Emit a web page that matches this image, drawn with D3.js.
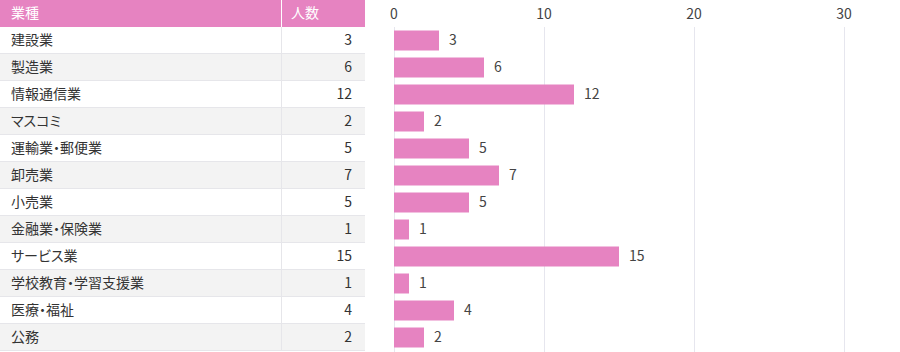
<!DOCTYPE html>
<html lang="ja">
<head>
<meta charset="UTF-8" />
<title>業種別人数</title>
<script src="https://cdn.jsdelivr.net/npm/d3@7/dist/d3.min.js"></script>
<style>
  body { margin: 0; background: #fff; }
  text { font-family: "Noto Sans CJK JP", "Noto Sans", sans-serif; font-feature-settings: "palt"; }
</style>
</head>
<body>
<script>
  const headers = ["業種", "人数"];
  const categories = ["建設業", "製造業", "情報通信業", "マスコミ", "運輸業・郵便業", "卸売業", "小売業", "金融業・保険業", "サービス業", "学校教育・学習支援業", "医療・福祉", "公務"];
  const counts = [3, 6, 12, 2, 5, 7, 5, 1, 15, 1, 4, 2];
  const ticks = [0, 10, 20, 30];

  const width = 900;
  const height = 352;
  const rowH = 27;
  const tableW = 365;
  const colX = 281;
  const pink = "#e683c1";
  const fs = 14;

  const svg = d3.select("body").append("svg")
    .attr("width", width)
    .attr("height", height);

  // 表
  const y = d3.scaleBand()
    .domain(categories)
    .range([rowH, rowH * (categories.length + 1)]);

  svg.append("rect")
    .attr("x", 0).attr("y", 0)
    .attr("width", tableW).attr("height", rowH)
    .attr("fill", pink);
  svg.append("line")
    .attr("x1", colX + 0.5).attr("x2", colX + 0.5)
    .attr("y1", 0).attr("y2", rowH)
    .attr("stroke", "#fff");
  svg.append("text")
    .attr("x", 11).attr("y", rowH / 2).attr("dy", "0.35em")
    .attr("fill", "#fff").attr("font-size", fs)
    .text(headers[0]);
  svg.append("text")
    .attr("x", colX + 10).attr("y", rowH / 2).attr("dy", "0.35em")
    .attr("fill", "#fff").attr("font-size", fs)
    .text(headers[1]);

  const rows = svg.append("g").selectAll("g")
    .data(categories)
    .join("g")
    .attr("transform", d => `translate(0,${y(d)})`);

  rows.append("rect")
    .attr("width", tableW).attr("height", rowH)
    .attr("fill", (d, i) => i % 2 ? "#f3f3f3" : "#fff");
  rows.append("line")
    .attr("x1", 0).attr("x2", tableW)
    .attr("y1", rowH - 0.5).attr("y2", rowH - 0.5)
    .attr("stroke", "#e6e6ea");
  rows.append("line")
    .attr("x1", colX + 0.5).attr("x2", colX + 0.5)
    .attr("y1", 0).attr("y2", rowH)
    .attr("stroke", "#e6e6ea");
  rows.append("text")
    .attr("x", 11).attr("y", rowH / 2).attr("dy", "0.35em")
    .attr("fill", "#333").attr("font-size", fs)
    .text(d => d);
  rows.append("text")
    .attr("x", 352).attr("y", rowH / 2).attr("dy", "0.35em")
    .attr("text-anchor", "end")
    .attr("fill", "#333").attr("font-size", fs)
    .text((d, i) => counts[i]);

  // 棒グラフ
  const x = d3.scaleLinear()
    .domain([0, 33.6])
    .range([394, 898]);

  svg.append("g")
    .selectAll("line")
    .data(ticks)
    .join("line")
    .attr("x1", d => Math.round(x(d)) + 0.5)
    .attr("x2", d => Math.round(x(d)) + 0.5)
    .attr("y1", rowH)
    .attr("y2", height)
    .attr("stroke", "#e6e6ee");

  svg.append("g")
    .selectAll("text")
    .data(ticks)
    .join("text")
    .attr("x", d => x(d))
    .attr("y", 14)
    .attr("dy", "0.35em")
    .attr("text-anchor", "middle")
    .attr("fill", "#444")
    .attr("font-size", fs)
    .text(d => d);

  const barH = 20;
  svg.append("g")
    .selectAll("rect")
    .data(counts)
    .join("rect")
    .attr("x", x(0))
    .attr("y", (d, i) => y(categories[i]) + (rowH - barH) / 2)
    .attr("width", d => x(d) - x(0))
    .attr("height", barH)
    .attr("fill", pink);

  svg.append("g")
    .selectAll("text")
    .data(counts)
    .join("text")
    .attr("x", d => x(d) + 10)
    .attr("y", (d, i) => y(categories[i]) + rowH / 2)
    .attr("dy", "0.35em")
    .attr("fill", "#444")
    .attr("font-size", fs)
    .text(d => d);
</script>
</body>
</html>
